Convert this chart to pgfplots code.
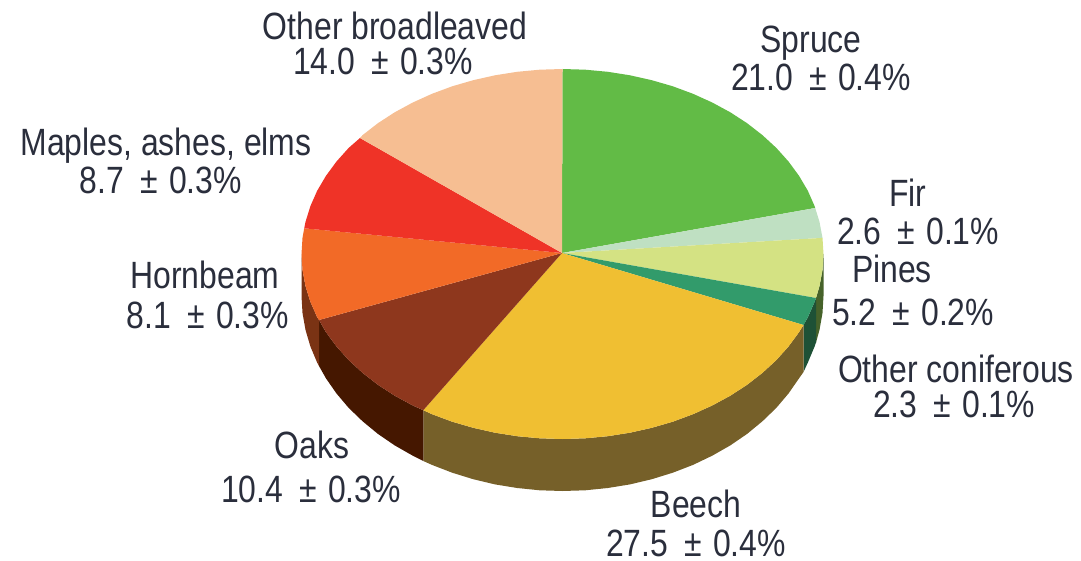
\documentclass[border=0pt]{standalone}
\usepackage{pgfplots}
\pgfplotsset{compat=1.18}
\usepackage{fontspec}
\setmainfont[FakeStretch=0.84]{Liberation Sans}
\definecolor{cSpruce}{HTML}{62BB46}
\definecolor{cFir}{HTML}{BFE0C2}
\definecolor{cPines}{HTML}{D4E283}
\definecolor{cOC}{HTML}{329B6B}
\definecolor{cBeech}{HTML}{F0BF32}
\definecolor{cOaks}{HTML}{8E371D}
\definecolor{cHorn}{HTML}{F26A27}
\definecolor{cMaple}{HTML}{EF3327}
\definecolor{cOther}{HTML}{F6BE92}
\definecolor{wPines}{HTML}{46622A}
\definecolor{wOC}{HTML}{1E5136}
\definecolor{wBeech}{HTML}{766029}
\definecolor{wOaks}{HTML}{451700}
\definecolor{wHorn}{HTML}{7A3314}
\definecolor{txt}{HTML}{2A2E3C}
\newcommand\PM{\hspace{.42em}±\hspace{.30em}}
\tikzset{lbl/.style={font=\fontsize{38}{40}\selectfont,text=txt,anchor=base,inner sep=0pt}}
\begin{document}
\begin{tikzpicture}
\begin{axis}[
  width=1081pt,height=561pt,scale only axis,
  xmin=0,xmax=1081,ymin=0,ymax=561,y dir=reverse,
  hide axis,clip=false,
]
\path (axis cs:0,0) (axis cs:1081,561);
% side walls
\addplot[fill=wPines,draw=none] coordinates {(823.5,254)(822.5,270.1)(819.5,286.1)(816,298)(816,342.5)(819.5,329.9)(822.5,313)(823.5,296)} --cycle;
\addplot[fill=wOC,draw=none] coordinates {(816,298)(814.6,301.9)(807.8,317.3)(803.5,325)(803.5,372)(807.8,362.7)(814.6,346.5)(816,342.5)} --cycle;
\addplot[fill=wBeech,draw=none] coordinates {(803.5,325)(799,332.2)(788.5,346.5)(776.3,360.1)(762.4,372.9)(747.1,384.8)(730.3,395.7)(712.2,405.5)(693,414.2)(672.8,421.7)(651.8,427.8)(630,432.7)(607.8,436.2)(585.3,438.3)(562.5,439)(539.7,438.3)(517.2,436.2)(495,432.7)(473.2,427.8)(452.2,421.7)(432,414.2)(423.3,410.2)(423.3,461)(432,464.9)(452.2,472.7)(473.2,479.2)(495,484.4)(517.2,488)(539.7,490.3)(562.5,491)(585.3,490.3)(607.8,488)(630,484.4)(651.8,479.2)(672.8,472.7)(693,464.9)(712.2,455.7)(730.3,445.4)(747.1,433.9)(762.4,421.3)(776.3,407.9)(788.5,393.5)(799,378.4)(803.5,372)} --cycle;
\addplot[fill=wOaks,draw=none] coordinates {(423.3,410.2)(412.8,405.5)(394.7,395.7)(377.9,384.8)(362.6,372.9)(348.7,360.1)(336.5,346.5)(326,332.2)(319,320)(319,366)(326,378.4)(336.5,393.5)(348.7,407.9)(362.6,421.3)(377.9,433.9)(394.7,445.4)(412.8,455.7)(423.3,461)} --cycle;
\addplot[fill=wHorn,draw=none] coordinates {(319,320)(317.2,317.3)(310.4,301.9)(305.5,286.1)(302.5,270.1)(301.5,254)(301.5,296)(302.5,313)(305.5,329.9)(310.4,346.5)(317.2,362.7)(319,366)} --cycle;
% top slices
\addplot[fill=cSpruce,draw=none] coordinates {(562,253)(562.5,69)(585.3,69.7)(607.8,71.8)(630,75.3)(651.8,80.2)(672.8,86.3)(693,93.8)(712.2,102.5)(730.3,112.3)(747.1,123.2)(762.4,135.1)(776.3,147.9)(788.5,161.5)(799,175.8)(807.8,190.7)(814.6,206.1)(815.2,208)} --cycle;
\addplot[fill=cFir,draw=none] coordinates {(562,253)(815.2,208)(819.5,221.9)(822.5,237.9)} --cycle;
\addplot[fill=cPines,draw=none] coordinates {(562,253)(822.5,237.9)(823.5,254)(822.5,270.1)(819.5,286.1)(816,298)} --cycle;
\addplot[fill=cOC,draw=none] coordinates {(562,253)(816,298)(814.6,301.9)(807.8,317.3)(803.5,325)} --cycle;
\addplot[fill=cBeech,draw=none] coordinates {(562,253)(803.5,325)(799,332.2)(788.5,346.5)(776.3,360.1)(762.4,372.9)(747.1,384.8)(730.3,395.7)(712.2,405.5)(693,414.2)(672.8,421.7)(651.8,427.8)(630,432.7)(607.8,436.2)(585.3,438.3)(562.5,439)(539.7,438.3)(517.2,436.2)(495,432.7)(473.2,427.8)(452.2,421.7)(432,414.2)(423.3,410.2)} --cycle;
\addplot[fill=cOaks,draw=none] coordinates {(562,253)(423.3,410.2)(412.8,405.5)(394.7,395.7)(377.9,384.8)(362.6,372.9)(348.7,360.1)(336.5,346.5)(326,332.2)(319,320)} --cycle;
\addplot[fill=cHorn,draw=none] coordinates {(562,253)(319,320)(317.2,317.3)(310.4,301.9)(305.5,286.1)(302.5,270.1)(301.5,254)(302.5,237.9)(304.2,228.3)} --cycle;
\addplot[fill=cMaple,draw=none] coordinates {(562,253)(304.2,228.3)(305.5,221.9)(310.4,206.1)(317.2,190.7)(326,175.8)(336.5,161.5)(348.7,147.9)(360,138)} --cycle;
\addplot[fill=cOther,draw=none] coordinates {(562,253)(360,138)(362.6,135.1)(377.9,123.2)(394.7,112.3)(412.8,102.5)(432,93.8)(452.2,86.3)(473.2,80.2)(495,75.3)(517.2,71.8)(539.7,69.7)(562.5,69)} --cycle;
% labels
\node[lbl] at (axis cs:395,40) {Other broadleaved};
\node[lbl] at (axis cs:383,75) {14.0\PM 0.3\%};
\node[lbl] at (axis cs:811,53) {Spruce};
\node[lbl] at (axis cs:821,91) {21.0\PM 0.4\%};
\node[lbl] at (axis cs:908,207) {Fir};
\node[lbl] at (axis cs:918,245) {2.6\PM 0.1\%};
\node[lbl] at (axis cs:892,283) {Pines};
\node[lbl] at (axis cs:913,325) {5.2\PM 0.2\%};
\node[lbl] at (axis cs:956,382) {Other coniferous};
\node[lbl] at (axis cs:954,417) {2.3\PM 0.1\%};
\node[lbl] at (axis cs:166,156) {Maples, ashes, elms};
\node[lbl] at (axis cs:161,194) {8.7\PM 0.3\%};
\node[lbl] at (axis cs:205,288) {Hornbeam};
\node[lbl] at (axis cs:208,328) {8.1\PM 0.3\%};
\node[lbl] at (axis cs:312,458) {Oaks};
\node[lbl] at (axis cs:311,502) {10.4\PM 0.3\%};
\node[lbl] at (axis cs:696,517) {Beech};
\node[lbl] at (axis cs:696,556) {27.5\PM 0.4\%};
\end{axis}
\end{tikzpicture}
\end{document}
